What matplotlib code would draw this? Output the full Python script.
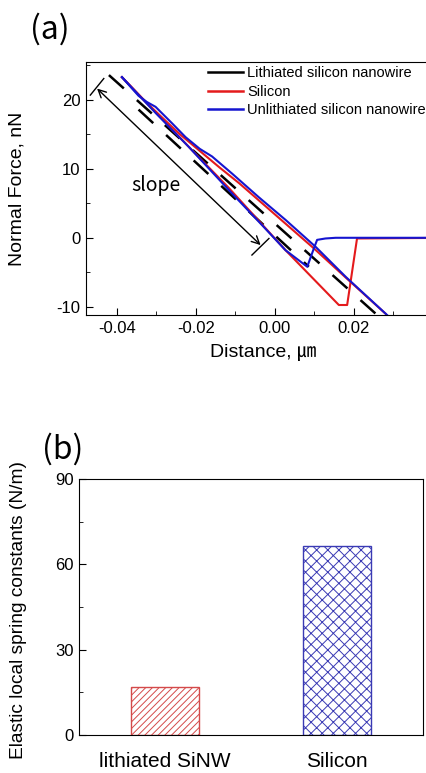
import matplotlib
matplotlib.use('Agg')
import matplotlib.pyplot as plt
from matplotlib.lines import Line2D
from matplotlib.ticker import MultipleLocator

plt.rcParams['font.family'] = ['Liberation Sans', 'Noto Sans CJK KR']
plt.rcParams['axes.unicode_minus'] = False
plt.rcParams['hatch.linewidth'] = 0.7

# force-distance curves (nN vs um)
lith_load_x = [-0.0420, 0.0255]
lith_load_y = [23.6, -11.0]
lith_unload_x = [-0.0345, 0.0086]
lith_unload_y = [18.6, -4.2]

si_a_x = [-0.0387, -0.0330, -0.0290, -0.0240, -0.0190, -0.0140, -0.0090, -0.0030, 0.0030, 0.0100, 0.0180, 0.0280]
si_a_y = [23.3, 19.9, 17.7, 15.0, 12.6, 10.2, 7.9, 4.9, 1.9, -1.6, -5.8, -11.0]
si_b_x = [-0.0387, -0.0300, -0.0218, -0.0116, 0.0027, 0.0162, 0.0183, 0.0208, 0.0450]
si_b_y = [23.3, 18.1, 13.2, 7.2, -1.8, -9.75, -9.75, -0.1, 0.0]

unlith_a_x = [-0.0387, -0.0345, -0.0324, -0.0302, -0.0260, -0.0226, -0.0190, -0.0159, -0.0108, -0.0041, 0.0027, 0.0103, 0.0180, 0.0284]
unlith_a_y = [23.3, 20.6, 19.7, 19.0, 16.6, 14.6, 12.9, 11.8, 9.3, 5.9, 2.6, -1.3, -5.7, -11.2]
unlith_b_x = [-0.0387, -0.0300, -0.0218, -0.0116, -0.0040, 0.0027, 0.0082, 0.0099, 0.0107, 0.0128, 0.0154, 0.0450]
unlith_b_y = [23.3, 18.0, 13.2, 6.9, 2.3, -1.8, -4.2, -1.5, -0.3, -0.1, 0.0, 0.0]

legend_labels = ['Lithiated silicon nanowire', 'Silicon', 'Unlithiated silicon nanowire']

# spring constants (N/m)
samples = ['lithiated SiNW', 'Silicon']
spring_k = [17.0, 66.3]

RED = '#e41a1c'
BLUE = '#1515d0'

fig = plt.figure(figsize=(4.27, 7.73), dpi=100)

# ---- (a) force curves ----
ax1 = fig.add_axes([86/427, 1 - 315/773, 354/427, 253/773])
ax1.plot(lith_load_x, lith_load_y, color='black', lw=1.8, dashes=(8, 7))
ax1.plot(lith_unload_x, lith_unload_y, color='black', lw=1.8, dashes=(8, 7))
ax1.plot(si_a_x, si_a_y, color=RED, lw=1.5)
ax1.plot(si_b_x, si_b_y, color=RED, lw=1.5)
ax1.plot(unlith_a_x, unlith_a_y, color=BLUE, lw=1.5)
ax1.plot(unlith_b_x, unlith_b_y, color=BLUE, lw=1.5)

# slope marker
ax1.annotate('', xy=(-0.0450, 21.65), xytext=(-0.0036, -1.06),
             arrowprops=dict(arrowstyle='<->', lw=1, color='black',
                             shrinkA=0, shrinkB=0, mutation_scale=14))
ax1.plot([-0.0467, -0.0433], [20.7, 23.1], color='black', lw=1)
ax1.plot([-0.0058, -0.0015], [-2.5, -0.1], color='black', lw=1)
ax1.text(-0.0302, 7.6, 'slope', fontsize=14, family='Noto Sans CJK KR',
         ha='center', va='center')

ax1.set_xlim(-0.0478, 0.0418)
ax1.set_ylim(-11.2, 25.5)
ax1.xaxis.set_minor_locator(MultipleLocator(0.01))
ax1.yaxis.set_major_locator(MultipleLocator(10))
ax1.yaxis.set_minor_locator(MultipleLocator(5))
ax1.set_xticks([-0.04, -0.02, 0.0, 0.02])
ax1.set_xticklabels(['-0.04', '-0.02', '0.00', '0.02'])
ax1.tick_params(which='both', direction='in', labelsize=12, pad=4)
ax1.tick_params(which='major', length=5)
ax1.tick_params(which='minor', length=3)
ax1.set_xlabel('Distance, ㎛', fontsize=14, labelpad=6)
ax1.set_ylabel('Normal Force, nN', fontsize=14)
ax1.yaxis.set_label_coords(-0.172, 0.5)

handles = [Line2D([], [], color=c, lw=1.8) for c in ['black', RED, BLUE]]
ax1.legend(handles, legend_labels, loc='upper left', bbox_to_anchor=(208/427, 1 - 66/773),
           bbox_transform=fig.transFigure, frameon=False, fontsize=10.5,
           handlelength=2.4, handletextpad=0.3, labelspacing=0.32,
           borderpad=0, borderaxespad=0)

fig.text(30/427, 1 - 29/773, '(a)', fontsize=23, family='Noto Sans CJK KR', va='center')

# ---- (b) spring constants ----
ax2 = fig.add_axes([79/427, 1 - 735/773, 344/427, 256/773])
bars = ax2.bar([0, 1], spring_k, width=0.4, color='white', linewidth=1)
bars[0].set_edgecolor('#d44a4a')
bars[0].set_hatch('/////')
bars[1].set_edgecolor('#3a3ab4')
bars[1].set_hatch('xxx')
ax2.set_xlim(-0.5, 1.5)
ax2.set_ylim(0, 90)
ax2.set_xticks([0, 1])
ax2.set_xticklabels(samples)
ax2.yaxis.set_major_locator(MultipleLocator(30))
ax2.yaxis.set_minor_locator(MultipleLocator(15))
ax2.tick_params(axis='y', which='both', direction='in', labelsize=12, pad=4)
ax2.tick_params(axis='y', which='major', length=5)
ax2.tick_params(axis='y', which='minor', length=3)
ax2.tick_params(axis='x', length=0, labelsize=15, pad=12)
ax2.set_ylabel('Elastic local spring constants (N/m)', fontsize=13.8)
ax2.yaxis.set_label_coords(-0.151, 0.49)

fig.text(42/427, 1 - 449/773, '(b)', fontsize=23, family='Noto Sans CJK KR', va='center')

fig.savefig('out.png', dpi=100)
